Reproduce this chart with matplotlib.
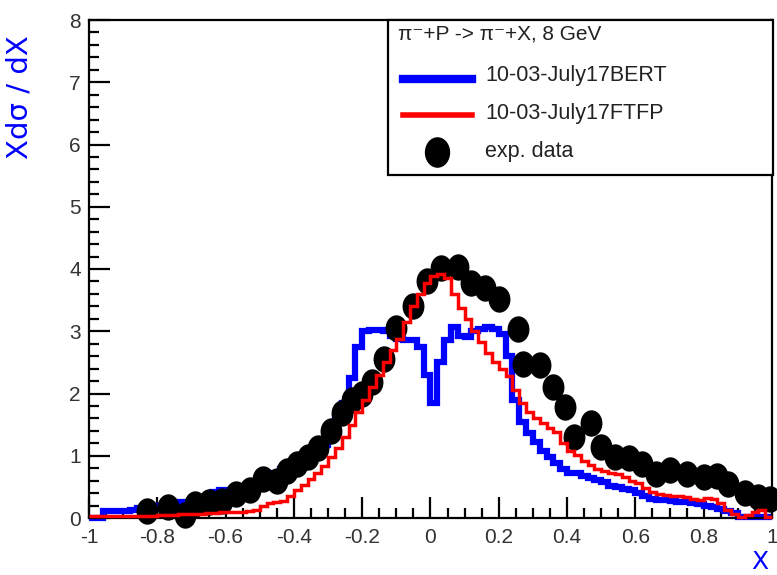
import numpy as np
import matplotlib
matplotlib.use("Agg")
import matplotlib.pyplot as plt
from matplotlib.path import Path
from matplotlib.transforms import Affine2D
from matplotlib.lines import Line2D
from matplotlib.patches import Rectangle

plt.rcParams['font.family'] = ['Liberation Sans', 'DejaVu Sans']

# ---------------- data ----------------
bin_edges = np.linspace(-1.0, 1.0, 101)

bert = [0.0, 0.0, 0.12, 0.12, 0.12, 0.12, 0.13, 0.16, 0.17, 0.18,
        0.20, 0.22, 0.24, 0.25, 0.26, 0.28, 0.30, 0.35, 0.42, 0.45,
        0.45, 0.45, 0.47, 0.50, 0.55, 0.60, 0.66, 0.72, 0.78, 0.84,
        0.90, 0.95, 0.98, 1.05, 1.18, 1.35, 1.60, 1.85, 2.25, 2.75,
        3.00, 3.02, 3.02, 3.00, 2.92, 2.87, 2.86, 2.86, 2.75, 2.30,
        1.85, 2.50, 2.86, 3.07, 2.92, 2.90, 3.00, 3.04, 3.07, 3.03,
        2.95, 2.60, 1.90, 1.55, 1.37, 1.22, 1.08, 0.98, 0.88, 0.78,
        0.72, 0.72, 0.68, 0.64, 0.61, 0.58, 0.52, 0.50, 0.47, 0.45,
        0.40, 0.35, 0.30, 0.29, 0.29, 0.27, 0.26, 0.25, 0.24, 0.22,
        0.20, 0.18, 0.15, 0.12, 0.08, 0.02, 0.02, 0.02, 0.02, 0.02]

ftfp = [0.04, 0.04, 0.04, 0.04, 0.04, 0.04, 0.04, 0.04, 0.04, 0.04,
        0.05, 0.05, 0.05, 0.06, 0.06, 0.07, 0.07, 0.08, 0.08, 0.09,
        0.09, 0.10, 0.10, 0.12, 0.13, 0.20, 0.24, 0.25, 0.27, 0.36,
        0.45, 0.53, 0.62, 0.72, 0.83, 0.98, 1.12, 1.30, 1.50, 1.70,
        1.90, 2.10, 2.30, 2.50, 2.70, 2.88, 3.15, 3.40, 3.60, 3.78,
        3.88, 3.92, 3.85, 3.60, 3.38, 3.20, 3.00, 2.82, 2.65, 2.50,
        2.40, 2.28, 2.05, 1.85, 1.70, 1.60, 1.52, 1.45, 1.38, 1.20,
        1.08, 1.02, 0.92, 0.85, 0.78, 0.75, 0.72, 0.70, 0.66, 0.60,
        0.56, 0.48, 0.42, 0.39, 0.37, 0.36, 0.35, 0.34, 0.31, 0.29,
        0.32, 0.30, 0.24, 0.13, 0.06, 0.02, 0.05, 0.10, 0.13, 0.02]

data_x = [-0.83, -0.77, -0.72, -0.69, -0.65, -0.61, -0.57, -0.53, -0.49, -0.45,
          -0.42, -0.39, -0.36, -0.33, -0.29, -0.26, -0.23, -0.20, -0.17, -0.135,
          -0.10, -0.05, -0.01, 0.03, 0.08, 0.12, 0.16, 0.20, 0.255, 0.27,
          0.32, 0.36, 0.395, 0.42, 0.47, 0.50, 0.54, 0.58, 0.62, 0.66,
          0.70, 0.75, 0.80, 0.84, 0.87, 0.92, 0.96, 0.995]
data_y = [0.12, 0.18, 0.05, 0.22, 0.25, 0.28, 0.38, 0.45, 0.62, 0.60,
          0.75, 0.87, 0.98, 1.12, 1.40, 1.68, 1.90, 2.00, 2.18, 2.55,
          3.05, 3.40, 3.80, 4.02, 4.03, 3.78, 3.70, 3.52, 3.04, 2.48,
          2.45, 2.11, 1.79, 1.30, 1.53, 1.14, 0.98, 0.97, 0.87, 0.70,
          0.77, 0.70, 0.66, 0.68, 0.55, 0.40, 0.33, 0.30]

xticks = [-1.0, -0.8, -0.6, -0.4, -0.2, 0.0, 0.2, 0.4, 0.6, 0.8, 1.0]
xtick_labels = ["-1", "-0.8", "-0.6", "-0.4", "-0.2", "0", "0.2", "0.4", "0.6", "0.8", "1"]
yticks = [0, 1, 2, 3, 4, 5, 6, 7, 8]
ytick_labels = ["0", "1", "2", "3", "4", "5", "6", "7", "8"]

legend_title = "\u03c0\u207b+P -> \u03c0\u207b+X, 8 GeV"
legend_labels = ["10-03-July17BERT", "10-03-July17FTFP", "exp. data"]

# ---------------- figure ----------------
W, H = 777, 575
fig = plt.figure(figsize=(W / 100, H / 100), dpi=100)
ax = fig.add_axes([89 / W, 1 - 518 / H, (772 - 89) / W, (518 - 20) / H])

ell = Path.unit_circle().transformed(Affine2D().scale(0.82, 1.0))

ax.stairs(bert, bin_edges, baseline=None, color='#0000ff', lw=4.5, zorder=2, clip_on=False)
ax.plot(data_x, data_y, ls='none', marker=ell, ms=18, color='black', zorder=3, clip_on=False)
ax.stairs(ftfp, bin_edges, baseline=None, color='#ff0000', lw=2.5, zorder=4, clip_on=False)

ax.set_xlim(-1, 1)
ax.set_ylim(0, 8)
ax.set_xticks(xticks)
ax.set_xticklabels(xtick_labels)
ax.set_yticks(yticks)
ax.set_yticklabels(ytick_labels)
ax.set_xticks(np.arange(-1, 1.001, 0.05), minor=True)
ax.set_yticks(np.arange(0, 8.001, 0.2), minor=True)
ax.tick_params(which='both', direction='in', top=False, right=False, width=1.6, colors='black')
ax.tick_params(which='major', length=15, labelsize=15, labelcolor='#333333')
ax.tick_params(which='minor', length=7)
ax.tick_params(axis='x', which='major', pad=7)
ax.tick_params(axis='y', which='major', pad=6)
for s in ax.spines.values():
    s.set_linewidth(1.6)

fig.text(20 / W, 1 - 35 / H, "Xd\u03c3 / dX", rotation=90, ha='center', va='top',
         color='#0000ff', fontsize=21, family=['DejaVu Sans'])
fig.text(760 / W, 1 - 562 / H, "X", ha='center', va='center',
         color='#0000ff', fontsize=18, family=['DejaVu Sans'])

# ---------------- legend ----------------
fig.add_artist(Rectangle((388 / W, 1 - 175 / H), (773 - 388) / W, (175 - 20) / H,
                         transform=fig.transFigure, facecolor='white', edgecolor='black',
                         lw=1.6, zorder=5))
fig.text(398 / W, 1 - 34 / H, legend_title, ha='left', va='center', fontsize=15,
         color='#222222', zorder=6)
fig.add_artist(Line2D([403 / W, 472 / W], [1 - 79 / H] * 2, transform=fig.transFigure,
                      color='#0000ff', lw=6, zorder=6))
fig.add_artist(Line2D([403 / W, 472 / W], [1 - 115 / H] * 2, transform=fig.transFigure,
                      color='#ff0000', lw=4, zorder=6))
fig.add_artist(Line2D([437 / W], [1 - 152 / H], transform=fig.transFigure, ls='none',
                      marker=ell, ms=21, color='black', zorder=6))
for yy, lab in zip([75, 113, 152], legend_labels):
    fig.text(485 / W, 1 - yy / H, lab, ha='left', va='center', fontsize=15.5,
             color='#222222', zorder=6)

fig.savefig("out.png", dpi=100)
